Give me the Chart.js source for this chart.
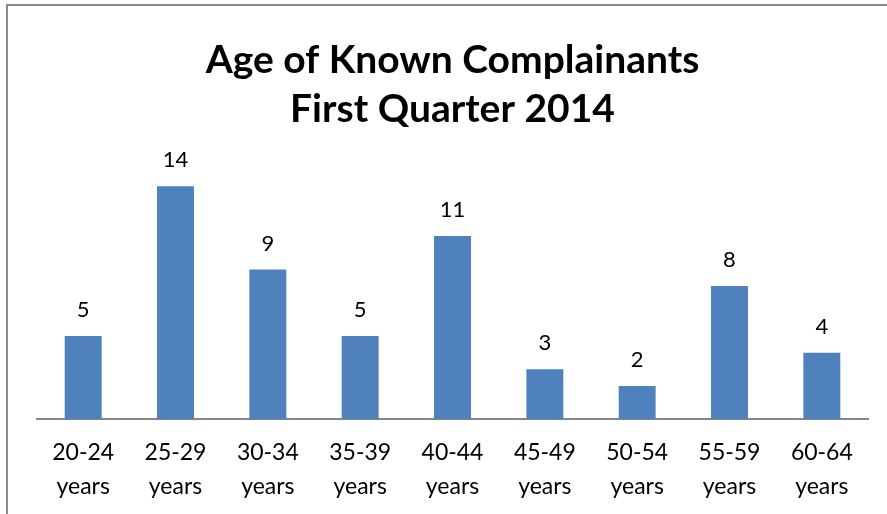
<!DOCTYPE html>
<html>
<head>
<meta charset="utf-8">
<script src="https://cdn.jsdelivr.net/npm/chart.js@4/dist/chart.umd.min.js"></script>
<style>
  html, body { margin: 0; padding: 0; background: #fff; }
  #wrap { position: relative; width: 887px; height: 514px; }
</style>
</head>
<body>
<div id="wrap"><canvas id="ageChart" width="887" height="514"></canvas></div>
<script>
const titleLines = ["Age of Known Complainants", "First Quarter 2014"];
const ageGroups = ["20-24", "25-29", "30-34", "35-39", "40-44", "45-49", "50-54", "55-59", "60-64"];
const complainants = [5, 14, 9, 5, 11, 3, 2, 8, 4];

const FONT = "Lato";

// frame lines (left + top) like the cropped chart border
const framePlugin = {
  id: "frame",
  beforeDraw(chart) {
    const ctx = chart.ctx;
    ctx.save();
    ctx.fillStyle = "#fff";
    ctx.fillRect(0, 0, chart.width, chart.height);
    ctx.strokeStyle = "#8a8a8a";
    ctx.lineWidth = 2;
    ctx.beginPath();
    ctx.moveTo(7, chart.height);
    ctx.lineTo(7, 5);
    ctx.lineTo(chart.width, 5);
    ctx.stroke();
    ctx.restore();
  }
};

// value labels above each bar
const valueLabels = {
  id: "valueLabels",
  afterDatasetsDraw(chart) {
    const ctx = chart.ctx;
    const meta = chart.getDatasetMeta(0);
    ctx.save();
    ctx.font = "22px " + FONT;
    ctx.fillStyle = "#000";
    ctx.textAlign = "center";
    ctx.textBaseline = "middle";
    meta.data.forEach(function (bar, i) {
      ctx.fillText(String(chart.data.datasets[0].data[i]), bar.x, bar.y - 26);
    });
    ctx.restore();
  }
};

const canvas = document.getElementById("ageChart");
new Chart(canvas.getContext("2d"), {
  type: "bar",
  data: {
    labels: ageGroups.map(function (g) { return [g, "years"]; }),
    datasets: [
      {
        label: "Complainants",
        data: complainants,
        backgroundColor: "#4F81BD",
        borderWidth: 0,
        barPercentage: 0.4,
        categoryPercentage: 1.0,
      },
    ],
  },
  options: {
    responsive: false,
    maintainAspectRatio: false,
    animation: false,
    layout: { padding: { left: 37, right: 19, top: 35, bottom: -6 } },
    plugins: {
      legend: { display: false },
      tooltip: { enabled: false },
      title: {
        display: true,
        text: titleLines,
        color: "#000",
        font: { family: FONT, size: 39, weight: "bold", lineHeight: 1.28 },
        padding: { top: 0, bottom: 18 },
      },
    },
    scales: {
      x: {
        grid: { display: false, drawTicks: false },
        border: { display: true, color: "#868686", width: 2 },
        ticks: {
          color: "#000",
          padding: 17,
          maxRotation: 0,
          font: { family: FONT, size: 23, lineHeight: 1.45 },
        },
      },
      y: {
        display: false,
        min: 0,
        max: 16,
      },
    },
  },
  plugins: [framePlugin, valueLabels],
});
</script>
</body>
</html>
